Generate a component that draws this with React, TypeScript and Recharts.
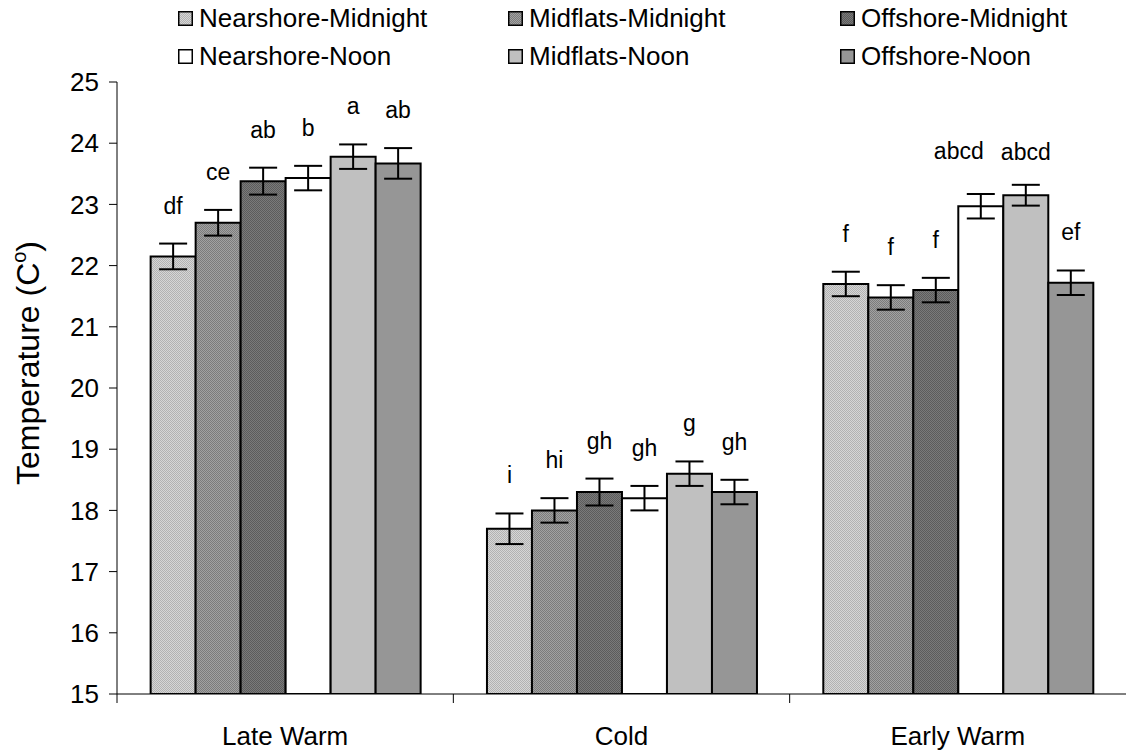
import React from "react";
import { BarChart, Bar, XAxis, YAxis, ErrorBar, LabelList } from "recharts";

const categories = ["Late Warm", "Cold", "Early Warm"];
const seriesNames = [
  "Nearshore-Midnight",
  "Midflats-Midnight",
  "Offshore-Midnight",
  "Nearshore-Noon",
  "Midflats-Noon",
  "Offshore-Noon",
];

const nearshoreMidnight = [22.15, 17.7, 21.7];
const midflatsMidnight = [22.7, 18.0, 21.48];
const offshoreMidnight = [23.38, 18.3, 21.6];
const nearshoreNoon = [23.43, 18.2, 22.97];
const midflatsNoon = [23.78, 18.6, 23.15];
const offshoreNoon = [23.67, 18.3, 21.72];

const nearshoreMidnightErr = [0.21, 0.25, 0.2];
const midflatsMidnightErr = [0.21, 0.2, 0.2];
const offshoreMidnightErr = [0.22, 0.22, 0.2];
const nearshoreNoonErr = [0.2, 0.2, 0.2];
const midflatsNoonErr = [0.2, 0.2, 0.17];
const offshoreNoonErr = [0.25, 0.2, 0.2];

const nearshoreMidnightSig = ["df", "i", "f"];
const midflatsMidnightSig = ["ce", "hi", "f"];
const offshoreMidnightSig = ["ab", "gh", "f"];
const nearshoreNoonSig = ["b", "gh", "abcd"];
const midflatsNoonSig = ["a", "g", "abcd"];
const offshoreNoonSig = ["ab", "gh", "ef"];

const yTicks = [15, 16, 17, 18, 19, 20, 21, 22, 23, 24, 25];

const values = [nearshoreMidnight, midflatsMidnight, offshoreMidnight, nearshoreNoon, midflatsNoon, offshoreNoon];
const errors = [nearshoreMidnightErr, midflatsMidnightErr, offshoreMidnightErr, nearshoreNoonErr, midflatsNoonErr, offshoreNoonErr];
const sigs = [nearshoreMidnightSig, midflatsMidnightSig, offshoreMidnightSig, nearshoreNoonSig, midflatsNoonSig, offshoreNoonSig];

const fills = ["url(#pNearMid)", "url(#pMidMid)", "url(#pOffMid)", "#ffffff", "#c0c0c0", "#969696"];

const data = categories.map((c, i) => {
  const row: Record<string, string | number> = { cat: c };
  values.forEach((v, s) => {
    row[`v${s}`] = v[i];
    row[`e${s}`] = errors[s][i];
    row[`l${s}`] = sigs[s][i];
  });
  return row;
});

const W = 1126;
const H = 754;
const TOP = 82;
const BOTTOM = 60;
const LEFT = 117;
const AXIS_Y = H - BOTTOM;
const PLOT_H = H - TOP - BOTTOM;
const PX_PER_UNIT = PLOT_H / 10;
const CAT_W = (W - LEFT) / categories.length;
const FONT = "'Liberation Sans', Arial, sans-serif";

// the two "abcd" letters sit side by side in the original, nudged apart
const labelNudge: Record<string, [number, number]> = {
  "3-2": [-22, -5],
  "4-2": [0, 5],
};

function CatTick(props: any) {
  const { x, payload } = props;
  const bx = x - CAT_W / 2;
  return (
    <g>
      <line x1={bx} y1={AXIS_Y} x2={bx} y2={AXIS_Y + 9} stroke="#000" strokeWidth={1} />
      <text x={x} y={AXIS_Y + 51} textAnchor="middle" fontSize={26} fill="#000" fontFamily={FONT}>
        {payload.value}
      </text>
    </g>
  );
}

function sigLabel(s: number) {
  return (props: any) => {
    const { x, y, width, value, index } = props;
    const err = errors[s][index];
    const [dx, dy] = labelNudge[`${s}-${index}`] ?? [0, 0];
    const cy = y - err * PX_PER_UNIT - 38 + dy;
    return (
      <text x={x + width / 2 + dx} y={cy + 8} textAnchor="middle" fontSize={23} fill="#000" fontFamily={FONT}>
        {value}
      </text>
    );
  };
}

function LegendBox({ i }: { i: number }) {
  return (
    <svg width={15} height={15} style={{ display: "block" }}>
      <rect x={0.75} y={0.75} width={13.5} height={13.5} fill={fills[i]} stroke="#000" strokeWidth={1.5} />
    </svg>
  );
}

export default function App() {
  const legendCols = [199, 529, 861];
  const legendRows = [18, 56];
  return (
    <div style={{ position: "absolute", left: 0, top: 0, width: W, height: H, background: "#fff", fontFamily: FONT }}>
      <BarChart
        width={W}
        height={H}
        data={data}
        margin={{ top: TOP, right: 0, bottom: 0, left: 0 }}
        barGap={0}
        barCategoryGap="10%"
      >
        <defs>
          <pattern id="pNearMid" width={2} height={2} patternUnits="userSpaceOnUse">
            <rect width={2} height={2} fill="#d6d6d6" />
            <rect width={1} height={1} fill="#b2b2b2" />
            <rect x={1} y={1} width={1} height={1} fill="#b2b2b2" />
          </pattern>
          <pattern id="pMidMid" width={2} height={2} patternUnits="userSpaceOnUse">
            <rect width={2} height={2} fill="#a2a2a2" />
            <rect width={1} height={1} fill="#7c7c7c" />
            <rect x={1} y={1} width={1} height={1} fill="#7c7c7c" />
          </pattern>
          <pattern id="pOffMid" width={2} height={2} patternUnits="userSpaceOnUse">
            <rect width={2} height={2} fill="#7a7a7a" />
            <rect width={1} height={1} fill="#5c5c5c" />
            <rect x={1} y={1} width={1} height={1} fill="#5c5c5c" />
          </pattern>
        </defs>
        <XAxis
          dataKey="cat"
          height={BOTTOM}
          axisLine={{ stroke: "#000", strokeWidth: 1 }}
          tickLine={false}
          tick={<CatTick />}
          interval={0}
        />
        <YAxis
          width={LEFT}
          domain={[15, 25]}
          ticks={yTicks}
          interval={0}
          allowDataOverflow
          axisLine={{ stroke: "#000", strokeWidth: 1 }}
          tickLine={{ stroke: "#000", strokeWidth: 1 }}
          tickSize={8}
          tickMargin={10}
          tick={{ fontSize: 26, fill: "#000", fontFamily: FONT }}
        />
        {seriesNames.map((name, s) => (
          <Bar
            key={name}
            dataKey={`v${s}`}
            name={name}
            fill={fills[s]}
            stroke="#000"
            strokeWidth={2}
            isAnimationActive={false}
          >
            <ErrorBar dataKey={`e${s}`} width={14} stroke="#000" strokeWidth={2} direction="y" />
            <LabelList dataKey={`l${s}`} content={sigLabel(s)} />
          </Bar>
        ))}
        <text
          transform={`translate(39, 363) rotate(-90)`}
          textAnchor="middle"
          fontSize={32}
          fill="#000"
          fontFamily={FONT}
        >
          Temperature (C
          <tspan fontSize={20} dy={-13}>o</tspan>
          <tspan dy={13}>)</tspan>
        </text>
      </BarChart>
      {seriesNames.map((name, i) => {
        const col = i % 3;
        const row = Math.floor(i / 3);
        return (
          <div
            key={name}
            style={{
              position: "absolute",
              left: legendCols[col] - 21,
              top: legendRows[row] - 15,
              height: 30,
              display: "flex",
              alignItems: "center",
              gap: 6,
              fontSize: 26,
              color: "#000",
              whiteSpace: "nowrap",
            }}
          >
            <LegendBox i={i} />
            <span>{name}</span>
          </div>
        );
      })}
    </div>
  );
}
